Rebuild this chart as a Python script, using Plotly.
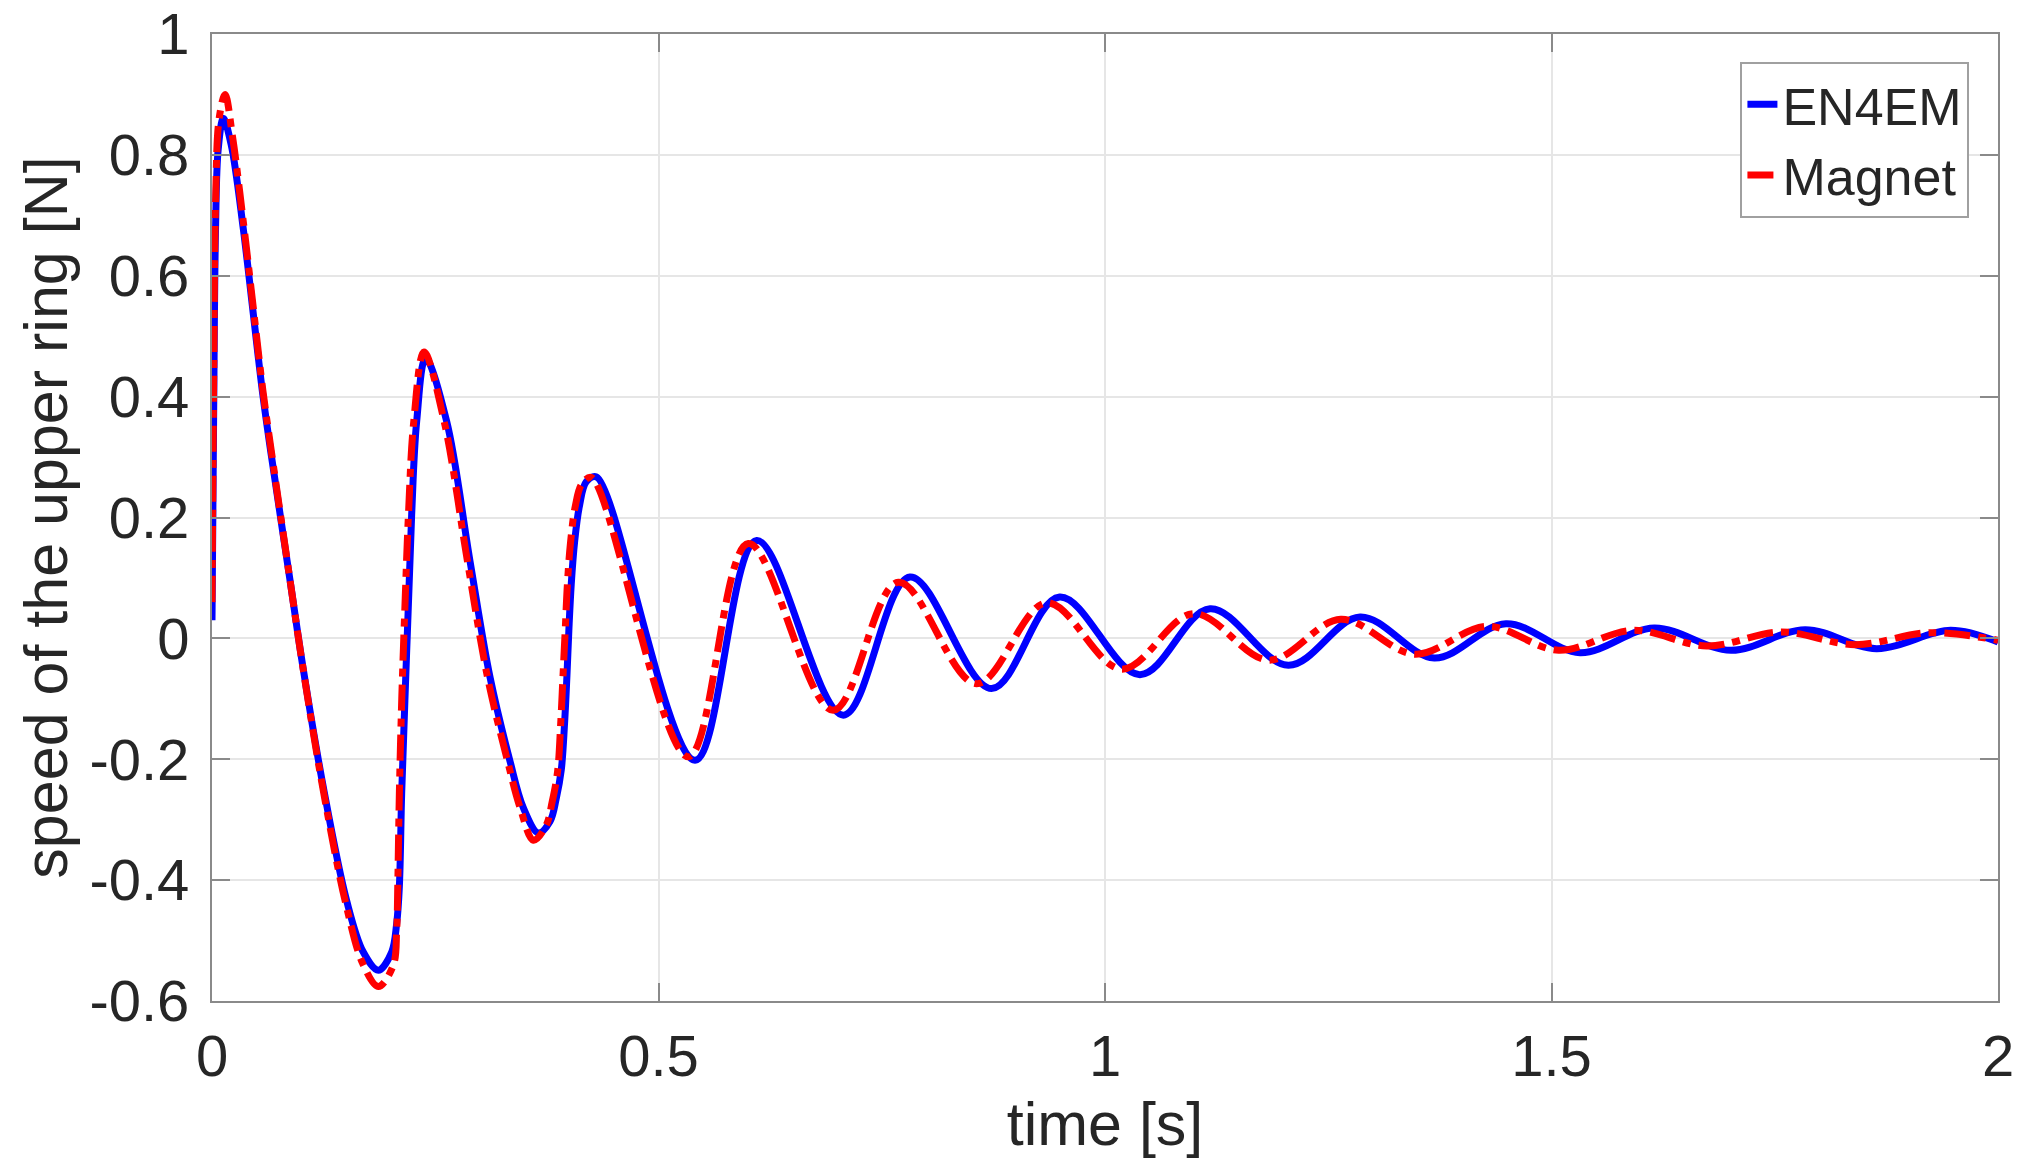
import plotly.graph_objects as go

# EN4EM (blue, solid)
t_en4em = [0.000, 0.002, 0.004, 0.007, 0.0127, 0.0216, 0.035, 0.046, 0.057, 0.0664,
           0.087, 0.102, 0.125, 0.1508, 0.1694, 0.1863, 0.2012, 0.2068, 0.2098, 0.2124,
           0.2160, 0.2198, 0.2236, 0.2292, 0.2393, 0.2628, 0.2889, 0.3113, 0.3337, 0.3486,
           0.3655, 0.3785, 0.3855, 0.3911, 0.3948, 0.3974, 0.3996, 0.4023, 0.4060, 0.4116,
           0.4191, 0.4306, 0.5409, 0.6100, 0.7070, 0.7816, 0.8729, 0.9491, 1.0390, 1.1176,
           1.2053, 1.2856, 1.3687, 1.4490, 1.5320, 1.6150, 1.7010, 1.7840, 1.8640, 1.9470,
           2.0000]
v_en4em = [0.03, 0.40, 0.68, 0.81, 0.86, 0.816, 0.678, 0.54, 0.402, 0.303,
           0.10, -0.049, -0.249, -0.434, -0.519, -0.549, -0.519, -0.472, -0.411, -0.257,
           -0.103, 0.051, 0.205, 0.359, 0.463, 0.359, 0.128, -0.064, -0.203, -0.28,
           -0.322, -0.303, -0.265, -0.218, -0.141, -0.064, 0.0125, 0.0895, 0.159, 0.22,
           0.259, 0.267, -0.2017, 0.162, -0.127, 0.1016, -0.083, 0.0685, -0.060, 0.049,
           -0.0445, 0.0354, -0.0324, 0.0243, -0.0236, 0.0172, -0.0197, 0.0144, -0.017, 0.0134,
           -0.006]

# Magnet (red, dash-dot)
t_magnet = [0.000, 0.002, 0.004, 0.008, 0.0146, 0.0230, 0.035, 0.046, 0.057, 0.0664,
            0.087, 0.102, 0.125, 0.1508, 0.1694, 0.1863, 0.2030, 0.2068, 0.2080, 0.2098,
            0.2125, 0.2160, 0.2200, 0.2260, 0.2374, 0.2600, 0.2860, 0.3085, 0.3310, 0.3450,
            0.3600, 0.3740, 0.3810, 0.3870, 0.3905, 0.3930, 0.3955, 0.3980, 0.4015, 0.4070,
            0.4140, 0.4250, 0.5334, 0.6006, 0.6955, 0.7686, 0.8560, 0.9347, 1.0187, 1.0990,
            1.1836, 1.2640, 1.3470, 1.4276, 1.5080, 1.5910, 1.6740, 1.7570, 1.8400, 1.9230,
            2.0000]
v_magnet = [0.06, 0.45, 0.72, 0.86, 0.90, 0.83, 0.69, 0.55, 0.41, 0.31,
            0.10, -0.05, -0.255, -0.445, -0.54, -0.576, -0.541, -0.483, -0.411, -0.257,
            -0.10, 0.051, 0.205, 0.36, 0.474, 0.359, 0.128, -0.064, -0.203, -0.28,
            -0.334, -0.31, -0.27, -0.22, -0.14, -0.064, 0.0125, 0.09, 0.159, 0.22,
            0.255, 0.266, -0.196, 0.157, -0.119, 0.093, -0.075, 0.059, -0.051, 0.041,
            -0.036, 0.0316, -0.0263, 0.020, -0.0197, 0.0134, -0.0126, 0.0106, -0.0104, 0.0094,
            -0.003]

x_ticks = [0, 0.5, 1, 1.5, 2]
x_tick_text = ["0", "0.5", "1", "1.5", "2"]
y_ticks = [-0.6, -0.4, -0.2, 0, 0.2, 0.4, 0.6, 0.8, 1]
y_tick_text = ["-0.6", "-0.4", "-0.2", "0", "0.2", "0.4", "0.6", "0.8", "1"]

FONT = "Liberation Sans, Arial, Helvetica, sans-serif"
TXT = "#262626"
AXC = "#8a8a8a"

fig = go.Figure()
fig.add_trace(go.Scatter(x=t_en4em, y=v_en4em, mode="lines", name="EN4EM",
                         line=dict(color="#0000ff", width=7, shape="spline", smoothing=1.0)))
fig.add_trace(go.Scatter(x=t_magnet, y=v_magnet, mode="lines", name="Magnet",
                         line=dict(color="#ff0000", width=7, shape="spline", smoothing=1.0,
                                   dash="26px,8px,8px,8px")))

# page body has an 8px margin, so the figure is 16px smaller than the window
fig.update_layout(
    width=2011, height=1158,
    margin=dict(l=204, r=21, t=26, b=165),
    paper_bgcolor="white", plot_bgcolor="white",
    font=dict(family=FONT, color=TXT, size=58),
    showlegend=True,
    legend=dict(x=0.984, y=0.971, xanchor="right", yanchor="top",
                bgcolor="white", bordercolor="#a0a0a0", borderwidth=2,
                font=dict(family=FONT, size=52, color=TXT)),
)
fig.update_xaxes(
    range=[0, 2], tickvals=x_ticks, ticktext=x_tick_text, automargin="bottom",
    ticklabeloverflow="allow",
    showgrid=True, gridcolor="#e6e6e6", gridwidth=2,
    zeroline=False, showline=True, linecolor=AXC, linewidth=2, mirror="ticks",
    ticks="inside", ticklen=18, tickwidth=2, tickcolor=AXC, ticklabelstandoff=3,
    tickfont=dict(family=FONT, size=58, color=TXT),
    title=dict(text="time [s]", font=dict(family=FONT, size=61, color=TXT), standoff=16),
)
fig.update_yaxes(
    range=[-0.6, 1], tickvals=y_ticks, ticktext=y_tick_text, automargin="left",
    ticklabeloverflow="allow",
    showgrid=True, gridcolor="#e6e6e6", gridwidth=2,
    zeroline=False, showline=True, linecolor=AXC, linewidth=2, mirror="ticks",
    ticks="inside", ticklen=18, tickwidth=2, tickcolor=AXC, ticklabelstandoff=9,
    tickfont=dict(family=FONT, size=58, color=TXT),
    title=dict(text="speed of the upper ring [N]", font=dict(family=FONT, size=61, color=TXT), standoff=2),
)

fig.write_html("out.html")
